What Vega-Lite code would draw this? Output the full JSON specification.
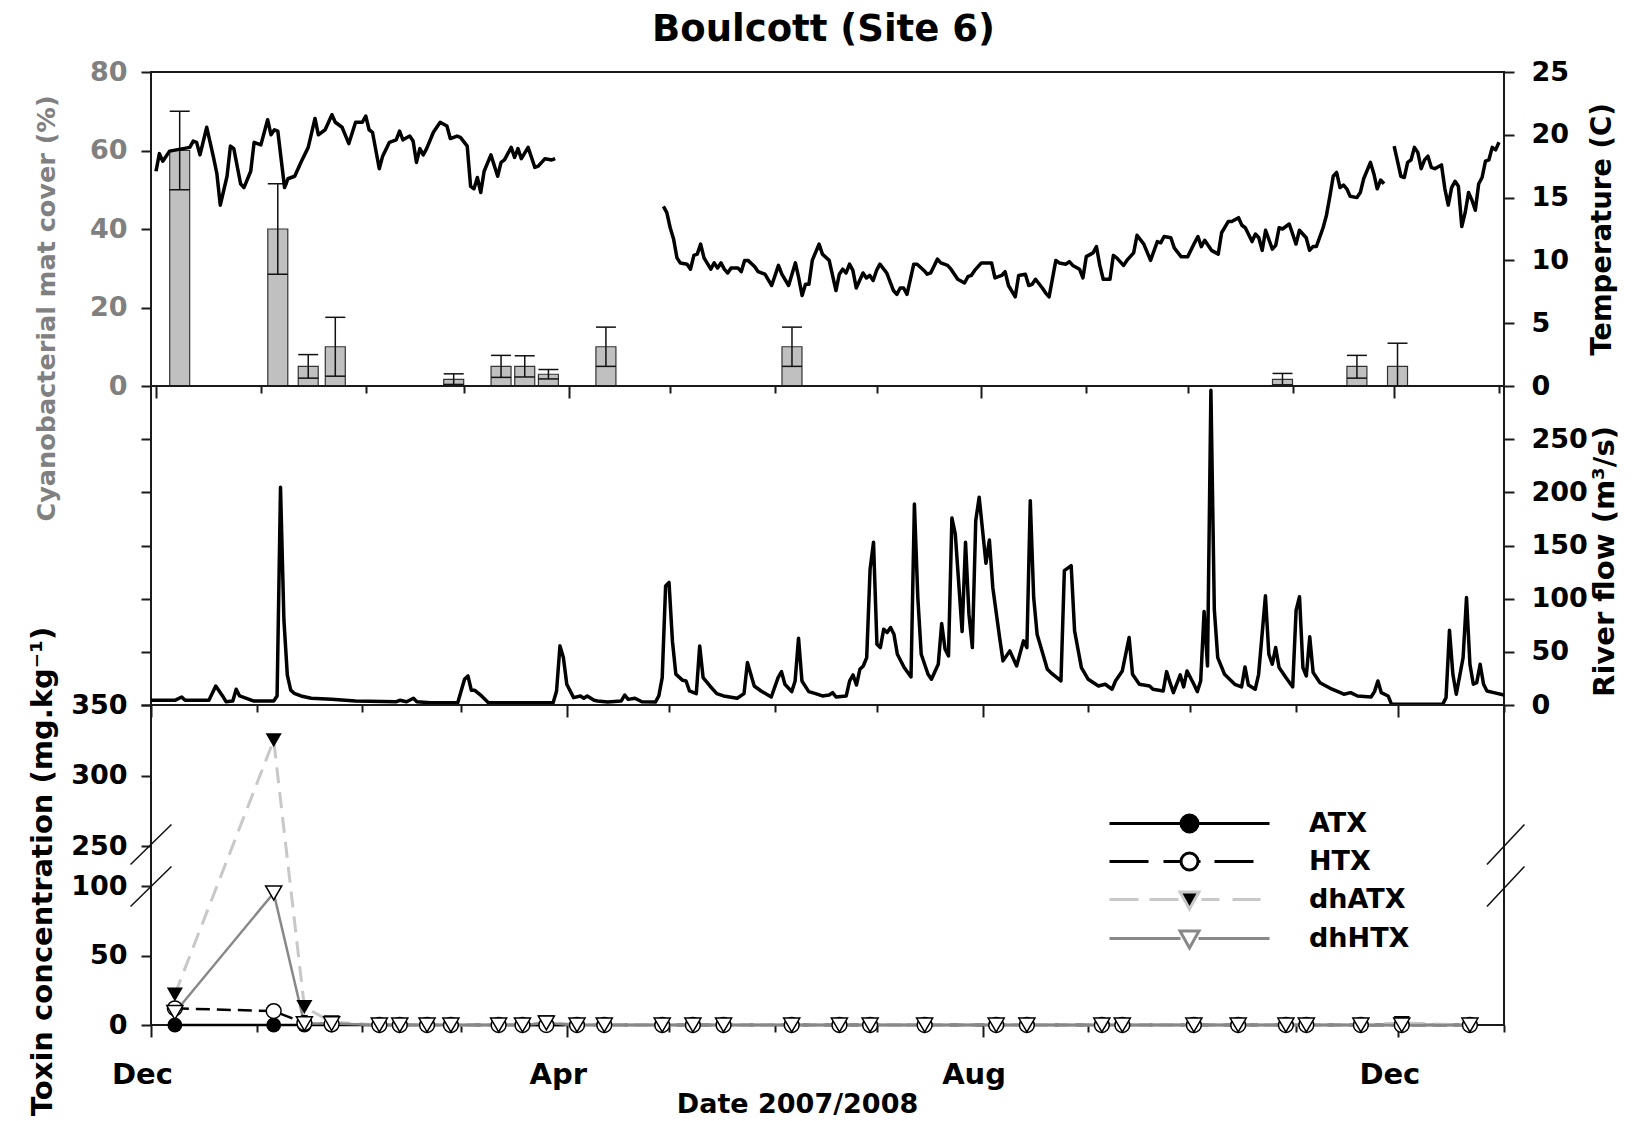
{
  "$schema": "https://vega.github.io/schema/vega-lite/v6.json",
  "padding": {"left": 26, "top": 11, "right": 8, "bottom": 3},
  "title": {"text": "Boulcott (Site 6)", "font": "DejaVu Sans", "fontSize": 37, "fontWeight": "bold", "color": "#000000", "anchor": "middle", "offset": 8},
  "spacing": 0,
  "bounds": "flush",
  "config": {
    "font": "DejaVu Sans",
    "view": {"stroke": "#1a1a1a", "strokeWidth": 2},
    "axis": {"grid": false, "domain": false, "labelFont": "DejaVu Sans", "labelFontWeight": "bold", "labelFontSize": 27, "labelColor": "#000000", "titleFont": "DejaVu Sans", "titleFontWeight": "bold", "titleFontSize": 27, "titleColor": "#000000", "tickColor": "#1a1a1a", "tickWidth": 2, "tickSize": 10, "labelPadding": 14}
  },
  "datasets": {
    "mat": [
      {"date": "2007-12-08", "cover": 60, "lo": 50, "hi": 70},
      {"date": "2008-01-06", "cover": 40, "lo": 28.5, "hi": 51.5},
      {"date": "2008-01-15", "cover": 5, "lo": 2, "hi": 8},
      {"date": "2008-01-23", "cover": 10, "lo": 2.5, "hi": 17.5},
      {"date": "2008-02-27", "cover": 1.7, "lo": 0.4, "hi": 3.1},
      {"date": "2008-03-12", "cover": 5, "lo": 2.2, "hi": 7.8},
      {"date": "2008-03-19", "cover": 5, "lo": 2.3, "hi": 7.7},
      {"date": "2008-03-26", "cover": 3, "lo": 1.8, "hi": 4.2},
      {"date": "2008-04-12", "cover": 10, "lo": 5, "hi": 15},
      {"date": "2008-06-06", "cover": 10, "lo": 5, "hi": 15},
      {"date": "2008-10-29", "cover": 1.7, "lo": 0.3, "hi": 3.2},
      {"date": "2008-11-20", "cover": 5, "lo": 2, "hi": 7.8},
      {"date": "2008-12-02", "cover": 5, "lo": 0, "hi": 10.9}
    ],
    "temp": [
      {"date": "2007-12-01", "temp": 17.1, "seg": 1}, {"date": "2007-12-02", "temp": 18.5, "seg": 1}, {"date": "2007-12-03", "temp": 17.9, "seg": 1}, {"date": "2007-12-04", "temp": 18.3, "seg": 1}, {"date": "2007-12-05", "temp": 18.7, "seg": 1}, {"date": "2007-12-07", "temp": 18.8, "seg": 1}, {"date": "2007-12-09", "temp": 18.9, "seg": 1}, {"date": "2007-12-11", "temp": 19.0, "seg": 1}, {"date": "2007-12-12", "temp": 19.5, "seg": 1}, {"date": "2007-12-13", "temp": 19.4, "seg": 1}, {"date": "2007-12-14", "temp": 18.4, "seg": 1}, {"date": "2007-12-16", "temp": 20.6, "seg": 1}, {"date": "2007-12-18", "temp": 18.2, "seg": 1}, {"date": "2007-12-19", "temp": 16.9, "seg": 1}, {"date": "2007-12-20", "temp": 14.4, "seg": 1}, {"date": "2007-12-22", "temp": 16.7, "seg": 1}, {"date": "2007-12-23", "temp": 19.1, "seg": 1}, {"date": "2007-12-24", "temp": 18.9, "seg": 1}, {"date": "2007-12-26", "temp": 16.1, "seg": 1}, {"date": "2007-12-27", "temp": 15.8, "seg": 1}, {"date": "2007-12-29", "temp": 17.1, "seg": 1}, {"date": "2007-12-30", "temp": 19.4, "seg": 1},
      {"date": "2008-01-01", "temp": 19.2, "seg": 1}, {"date": "2008-01-03", "temp": 21.2, "seg": 1}, {"date": "2008-01-04", "temp": 20.0, "seg": 1}, {"date": "2008-01-05", "temp": 20.4, "seg": 1}, {"date": "2008-01-06", "temp": 20.3, "seg": 1}, {"date": "2008-01-08", "temp": 15.8, "seg": 1}, {"date": "2008-01-09", "temp": 16.5, "seg": 1}, {"date": "2008-01-11", "temp": 16.7, "seg": 1}, {"date": "2008-01-13", "temp": 17.9, "seg": 1}, {"date": "2008-01-15", "temp": 19.0, "seg": 1}, {"date": "2008-01-17", "temp": 21.3, "seg": 1}, {"date": "2008-01-18", "temp": 20.0, "seg": 1}, {"date": "2008-01-20", "temp": 20.4, "seg": 1}, {"date": "2008-01-22", "temp": 21.6, "seg": 1}, {"date": "2008-01-23", "temp": 21.0, "seg": 1}, {"date": "2008-01-25", "temp": 20.6, "seg": 1}, {"date": "2008-01-27", "temp": 19.3, "seg": 1}, {"date": "2008-01-29", "temp": 21.0, "seg": 1}, {"date": "2008-01-31", "temp": 21.0, "seg": 1},
      {"date": "2008-02-01", "temp": 21.5, "seg": 1}, {"date": "2008-02-02", "temp": 20.4, "seg": 1}, {"date": "2008-02-03", "temp": 20.2, "seg": 1}, {"date": "2008-02-05", "temp": 17.3, "seg": 1}, {"date": "2008-02-06", "temp": 18.3, "seg": 1}, {"date": "2008-02-08", "temp": 19.4, "seg": 1}, {"date": "2008-02-10", "temp": 19.6, "seg": 1}, {"date": "2008-02-11", "temp": 20.3, "seg": 1}, {"date": "2008-02-12", "temp": 19.6, "seg": 1}, {"date": "2008-02-14", "temp": 19.9, "seg": 1}, {"date": "2008-02-15", "temp": 19.5, "seg": 1}, {"date": "2008-02-16", "temp": 17.8, "seg": 1}, {"date": "2008-02-17", "temp": 18.9, "seg": 1}, {"date": "2008-02-18", "temp": 18.4, "seg": 1}, {"date": "2008-02-19", "temp": 18.9, "seg": 1}, {"date": "2008-02-21", "temp": 20.2, "seg": 1}, {"date": "2008-02-23", "temp": 21.0, "seg": 1}, {"date": "2008-02-25", "temp": 20.7, "seg": 1}, {"date": "2008-02-26", "temp": 19.7, "seg": 1}, {"date": "2008-02-28", "temp": 19.9, "seg": 1}, {"date": "2008-02-29", "temp": 19.8, "seg": 1},
      {"date": "2008-03-02", "temp": 19.1, "seg": 1}, {"date": "2008-03-03", "temp": 15.9, "seg": 1}, {"date": "2008-03-04", "temp": 15.7, "seg": 1}, {"date": "2008-03-05", "temp": 16.6, "seg": 1}, {"date": "2008-03-06", "temp": 15.4, "seg": 1}, {"date": "2008-03-07", "temp": 17.1, "seg": 1}, {"date": "2008-03-09", "temp": 18.4, "seg": 1}, {"date": "2008-03-11", "temp": 16.7, "seg": 1}, {"date": "2008-03-12", "temp": 17.8, "seg": 1}, {"date": "2008-03-13", "temp": 18.0, "seg": 1}, {"date": "2008-03-15", "temp": 19.0, "seg": 1}, {"date": "2008-03-16", "temp": 18.2, "seg": 1}, {"date": "2008-03-17", "temp": 18.9, "seg": 1}, {"date": "2008-03-18", "temp": 18.1, "seg": 1}, {"date": "2008-03-20", "temp": 19.0, "seg": 1}, {"date": "2008-03-22", "temp": 17.4, "seg": 1}, {"date": "2008-03-23", "temp": 17.5, "seg": 1}, {"date": "2008-03-25", "temp": 18.1, "seg": 1}, {"date": "2008-03-27", "temp": 18.0, "seg": 1}, {"date": "2008-03-28", "temp": 18.1, "seg": 1},
      {"date": "2008-04-29", "temp": 14.3, "seg": 2}, {"date": "2008-04-30", "temp": 13.8, "seg": 2}, {"date": "2008-05-01", "temp": 12.6, "seg": 2}, {"date": "2008-05-02", "temp": 11.7, "seg": 2}, {"date": "2008-05-03", "temp": 10.2, "seg": 2}, {"date": "2008-05-04", "temp": 9.8, "seg": 2}, {"date": "2008-05-06", "temp": 9.7, "seg": 2}, {"date": "2008-05-07", "temp": 9.3, "seg": 2}, {"date": "2008-05-08", "temp": 10.4, "seg": 2}, {"date": "2008-05-09", "temp": 10.5, "seg": 2}, {"date": "2008-05-10", "temp": 11.3, "seg": 2}, {"date": "2008-05-11", "temp": 10.2, "seg": 2}, {"date": "2008-05-13", "temp": 9.3, "seg": 2}, {"date": "2008-05-14", "temp": 9.8, "seg": 2}, {"date": "2008-05-15", "temp": 9.4, "seg": 2}, {"date": "2008-05-16", "temp": 9.8, "seg": 2}, {"date": "2008-05-17", "temp": 9.3, "seg": 2}, {"date": "2008-05-18", "temp": 9.0, "seg": 2}, {"date": "2008-05-19", "temp": 9.4, "seg": 2}, {"date": "2008-05-21", "temp": 9.4, "seg": 2}, {"date": "2008-05-22", "temp": 9.1, "seg": 2}, {"date": "2008-05-23", "temp": 10.0, "seg": 2}, {"date": "2008-05-24", "temp": 10.0, "seg": 2}, {"date": "2008-05-26", "temp": 9.5, "seg": 2}, {"date": "2008-05-27", "temp": 9.1, "seg": 2}, {"date": "2008-05-29", "temp": 8.9, "seg": 2}, {"date": "2008-05-31", "temp": 8.0, "seg": 2},
      {"date": "2008-06-02", "temp": 9.6, "seg": 2}, {"date": "2008-06-03", "temp": 8.9, "seg": 2}, {"date": "2008-06-05", "temp": 8.0, "seg": 2}, {"date": "2008-06-07", "temp": 9.8, "seg": 2}, {"date": "2008-06-08", "temp": 8.6, "seg": 2}, {"date": "2008-06-09", "temp": 7.2, "seg": 2}, {"date": "2008-06-10", "temp": 8.1, "seg": 2}, {"date": "2008-06-11", "temp": 8.1, "seg": 2}, {"date": "2008-06-12", "temp": 10.0, "seg": 2}, {"date": "2008-06-14", "temp": 11.3, "seg": 2}, {"date": "2008-06-15", "temp": 10.5, "seg": 2}, {"date": "2008-06-17", "temp": 10.0, "seg": 2}, {"date": "2008-06-19", "temp": 7.6, "seg": 2}, {"date": "2008-06-20", "temp": 8.9, "seg": 2}, {"date": "2008-06-21", "temp": 9.3, "seg": 2}, {"date": "2008-06-22", "temp": 9.0, "seg": 2}, {"date": "2008-06-23", "temp": 9.7, "seg": 2}, {"date": "2008-06-24", "temp": 9.2, "seg": 2}, {"date": "2008-06-25", "temp": 7.8, "seg": 2}, {"date": "2008-06-27", "temp": 9.0, "seg": 2}, {"date": "2008-06-28", "temp": 8.6, "seg": 2}, {"date": "2008-06-29", "temp": 8.8, "seg": 2}, {"date": "2008-06-30", "temp": 8.4, "seg": 2},
      {"date": "2008-07-01", "temp": 9.2, "seg": 2}, {"date": "2008-07-02", "temp": 9.7, "seg": 2}, {"date": "2008-07-04", "temp": 9.0, "seg": 2}, {"date": "2008-07-06", "temp": 7.6, "seg": 2}, {"date": "2008-07-07", "temp": 7.3, "seg": 2}, {"date": "2008-07-08", "temp": 7.8, "seg": 2}, {"date": "2008-07-09", "temp": 7.8, "seg": 2}, {"date": "2008-07-10", "temp": 7.3, "seg": 2}, {"date": "2008-07-12", "temp": 9.7, "seg": 2}, {"date": "2008-07-13", "temp": 9.7, "seg": 2}, {"date": "2008-07-15", "temp": 9.2, "seg": 2}, {"date": "2008-07-16", "temp": 8.9, "seg": 2}, {"date": "2008-07-17", "temp": 9.0, "seg": 2}, {"date": "2008-07-19", "temp": 10.1, "seg": 2}, {"date": "2008-07-20", "temp": 9.8, "seg": 2}, {"date": "2008-07-22", "temp": 9.6, "seg": 2}, {"date": "2008-07-23", "temp": 9.3, "seg": 2}, {"date": "2008-07-25", "temp": 8.5, "seg": 2}, {"date": "2008-07-27", "temp": 8.2, "seg": 2}, {"date": "2008-07-28", "temp": 8.7, "seg": 2}, {"date": "2008-07-29", "temp": 8.8, "seg": 2}, {"date": "2008-07-30", "temp": 9.2, "seg": 2},
      {"date": "2008-08-01", "temp": 9.8, "seg": 2}, {"date": "2008-08-02", "temp": 9.8, "seg": 2}, {"date": "2008-08-04", "temp": 9.8, "seg": 2}, {"date": "2008-08-05", "temp": 8.6, "seg": 2}, {"date": "2008-08-07", "temp": 8.8, "seg": 2}, {"date": "2008-08-08", "temp": 9.1, "seg": 2}, {"date": "2008-08-09", "temp": 8.0, "seg": 2}, {"date": "2008-08-11", "temp": 7.1, "seg": 2}, {"date": "2008-08-12", "temp": 8.8, "seg": 2}, {"date": "2008-08-14", "temp": 8.9, "seg": 2}, {"date": "2008-08-15", "temp": 8.0, "seg": 2}, {"date": "2008-08-16", "temp": 8.1, "seg": 2}, {"date": "2008-08-17", "temp": 8.5, "seg": 2}, {"date": "2008-08-19", "temp": 7.8, "seg": 2}, {"date": "2008-08-20", "temp": 7.4, "seg": 2}, {"date": "2008-08-21", "temp": 7.1, "seg": 2}, {"date": "2008-08-23", "temp": 10.0, "seg": 2}, {"date": "2008-08-24", "temp": 9.8, "seg": 2}, {"date": "2008-08-26", "temp": 9.7, "seg": 2}, {"date": "2008-08-27", "temp": 9.9, "seg": 2}, {"date": "2008-08-28", "temp": 9.6, "seg": 2}, {"date": "2008-08-30", "temp": 9.3, "seg": 2}, {"date": "2008-08-31", "temp": 8.6, "seg": 2},
      {"date": "2008-09-01", "temp": 10.3, "seg": 2}, {"date": "2008-09-03", "temp": 10.6, "seg": 2}, {"date": "2008-09-04", "temp": 11.1, "seg": 2}, {"date": "2008-09-05", "temp": 9.6, "seg": 2}, {"date": "2008-09-06", "temp": 8.5, "seg": 2}, {"date": "2008-09-08", "temp": 8.5, "seg": 2}, {"date": "2008-09-09", "temp": 10.4, "seg": 2}, {"date": "2008-09-10", "temp": 10.2, "seg": 2}, {"date": "2008-09-12", "temp": 9.6, "seg": 2}, {"date": "2008-09-13", "temp": 10.0, "seg": 2}, {"date": "2008-09-15", "temp": 10.6, "seg": 2}, {"date": "2008-09-16", "temp": 12.0, "seg": 2}, {"date": "2008-09-18", "temp": 11.3, "seg": 2}, {"date": "2008-09-20", "temp": 10.0, "seg": 2}, {"date": "2008-09-22", "temp": 11.5, "seg": 2}, {"date": "2008-09-23", "temp": 11.4, "seg": 2}, {"date": "2008-09-24", "temp": 11.9, "seg": 2}, {"date": "2008-09-26", "temp": 11.8, "seg": 2}, {"date": "2008-09-27", "temp": 11.0, "seg": 2}, {"date": "2008-09-29", "temp": 10.3, "seg": 2},
      {"date": "2008-10-01", "temp": 10.3, "seg": 2}, {"date": "2008-10-03", "temp": 11.4, "seg": 2}, {"date": "2008-10-04", "temp": 11.9, "seg": 2}, {"date": "2008-10-05", "temp": 11.1, "seg": 2}, {"date": "2008-10-06", "temp": 11.6, "seg": 2}, {"date": "2008-10-08", "temp": 10.8, "seg": 2}, {"date": "2008-10-10", "temp": 10.5, "seg": 2}, {"date": "2008-10-11", "temp": 12.2, "seg": 2}, {"date": "2008-10-13", "temp": 13.1, "seg": 2}, {"date": "2008-10-14", "temp": 13.1, "seg": 2}, {"date": "2008-10-16", "temp": 13.4, "seg": 2}, {"date": "2008-10-17", "temp": 12.8, "seg": 2}, {"date": "2008-10-18", "temp": 12.6, "seg": 2}, {"date": "2008-10-20", "temp": 11.5, "seg": 2}, {"date": "2008-10-21", "temp": 12.1, "seg": 2}, {"date": "2008-10-22", "temp": 11.8, "seg": 2}, {"date": "2008-10-23", "temp": 10.8, "seg": 2}, {"date": "2008-10-24", "temp": 12.4, "seg": 2}, {"date": "2008-10-26", "temp": 10.9, "seg": 2}, {"date": "2008-10-27", "temp": 11.2, "seg": 2}, {"date": "2008-10-28", "temp": 12.6, "seg": 2}, {"date": "2008-10-29", "temp": 12.5, "seg": 2}, {"date": "2008-10-31", "temp": 12.9, "seg": 2},
      {"date": "2008-11-01", "temp": 12.1, "seg": 2}, {"date": "2008-11-02", "temp": 11.3, "seg": 2}, {"date": "2008-11-03", "temp": 12.4, "seg": 2}, {"date": "2008-11-05", "temp": 11.8, "seg": 2}, {"date": "2008-11-06", "temp": 10.8, "seg": 2}, {"date": "2008-11-07", "temp": 11.1, "seg": 2}, {"date": "2008-11-08", "temp": 11.1, "seg": 2}, {"date": "2008-11-10", "temp": 12.6, "seg": 2}, {"date": "2008-11-11", "temp": 13.6, "seg": 2}, {"date": "2008-11-12", "temp": 15.1, "seg": 2}, {"date": "2008-11-13", "temp": 16.7, "seg": 2}, {"date": "2008-11-14", "temp": 17.0, "seg": 2}, {"date": "2008-11-15", "temp": 15.8, "seg": 2}, {"date": "2008-11-16", "temp": 16.0, "seg": 2}, {"date": "2008-11-17", "temp": 15.7, "seg": 2}, {"date": "2008-11-18", "temp": 15.1, "seg": 2}, {"date": "2008-11-20", "temp": 15.0, "seg": 2}, {"date": "2008-11-21", "temp": 15.4, "seg": 2}, {"date": "2008-11-22", "temp": 16.5, "seg": 2}, {"date": "2008-11-24", "temp": 17.8, "seg": 2}, {"date": "2008-11-25", "temp": 16.9, "seg": 2}, {"date": "2008-11-26", "temp": 15.7, "seg": 2}, {"date": "2008-11-27", "temp": 16.4, "seg": 2}, {"date": "2008-11-28", "temp": 16.1, "seg": 2},
      {"date": "2008-12-01", "temp": 19.1, "seg": 3}, {"date": "2008-12-02", "temp": 17.9, "seg": 3}, {"date": "2008-12-03", "temp": 16.7, "seg": 3}, {"date": "2008-12-04", "temp": 16.6, "seg": 3}, {"date": "2008-12-05", "temp": 17.8, "seg": 3}, {"date": "2008-12-06", "temp": 18.0, "seg": 3}, {"date": "2008-12-07", "temp": 19.0, "seg": 3}, {"date": "2008-12-08", "temp": 18.6, "seg": 3}, {"date": "2008-12-09", "temp": 17.3, "seg": 3}, {"date": "2008-12-10", "temp": 18.0, "seg": 3}, {"date": "2008-12-11", "temp": 18.3, "seg": 3}, {"date": "2008-12-12", "temp": 17.4, "seg": 3}, {"date": "2008-12-13", "temp": 17.3, "seg": 3}, {"date": "2008-12-15", "temp": 17.6, "seg": 3}, {"date": "2008-12-16", "temp": 15.7, "seg": 3}, {"date": "2008-12-17", "temp": 14.4, "seg": 3}, {"date": "2008-12-18", "temp": 15.8, "seg": 3}, {"date": "2008-12-19", "temp": 16.3, "seg": 3}, {"date": "2008-12-20", "temp": 15.9, "seg": 3}, {"date": "2008-12-21", "temp": 12.7, "seg": 3}, {"date": "2008-12-22", "temp": 13.8, "seg": 3}, {"date": "2008-12-23", "temp": 15.4, "seg": 3}, {"date": "2008-12-24", "temp": 14.8, "seg": 3}, {"date": "2008-12-25", "temp": 14.0, "seg": 3}, {"date": "2008-12-26", "temp": 16.1, "seg": 3}, {"date": "2008-12-27", "temp": 16.6, "seg": 3}, {"date": "2008-12-28", "temp": 17.9, "seg": 3}, {"date": "2008-12-29", "temp": 18.0, "seg": 3}, {"date": "2008-12-30", "temp": 19.0, "seg": 3}, {"date": "2008-12-31", "temp": 18.8, "seg": 3}, {"date": "2009-01-01", "temp": 19.4, "seg": 3}
    ],
    "flow": [
      {"date": "2007-12-01", "flow": 4.4}, {"date": "2007-12-08", "flow": 4.4}, {"date": "2007-12-10", "flow": 7.5}, {"date": "2007-12-11", "flow": 4.4}, {"date": "2007-12-18", "flow": 4.4}, {"date": "2007-12-20", "flow": 17.9}, {"date": "2007-12-22", "flow": 8.5}, {"date": "2007-12-23", "flow": 3.1}, {"date": "2007-12-25", "flow": 3.8}, {"date": "2007-12-26", "flow": 14.8}, {"date": "2007-12-27", "flow": 8.5}, {"date": "2007-12-29", "flow": 6.3}, {"date": "2007-12-31", "flow": 3.8},
      {"date": "2008-01-06", "flow": 3.8}, {"date": "2008-01-07", "flow": 8.5}, {"date": "2008-01-08", "flow": 204.8}, {"date": "2008-01-09", "flow": 80}, {"date": "2008-01-10", "flow": 28}, {"date": "2008-01-11", "flow": 14}, {"date": "2008-01-12", "flow": 11}, {"date": "2008-01-14", "flow": 8.5}, {"date": "2008-01-17", "flow": 6.3}, {"date": "2008-01-23", "flow": 5.3}, {"date": "2008-01-30", "flow": 3.8},
      {"date": "2008-02-11", "flow": 3.1}, {"date": "2008-02-12", "flow": 4.4}, {"date": "2008-02-14", "flow": 3.1}, {"date": "2008-02-16", "flow": 6.3}, {"date": "2008-02-17", "flow": 3.1}, {"date": "2008-02-21", "flow": 2.2}, {"date": "2008-02-29", "flow": 2.2},
      {"date": "2008-03-01", "flow": 13.2}, {"date": "2008-03-02", "flow": 24.2}, {"date": "2008-03-03", "flow": 27.3}, {"date": "2008-03-04", "flow": 13.8}, {"date": "2008-03-05", "flow": 13.8}, {"date": "2008-03-07", "flow": 8.5}, {"date": "2008-03-09", "flow": 2.2}, {"date": "2008-03-28", "flow": 2.2}, {"date": "2008-03-29", "flow": 13.2}, {"date": "2008-03-30", "flow": 55.6}, {"date": "2008-03-31", "flow": 44.6},
      {"date": "2008-04-01", "flow": 19.5}, {"date": "2008-04-03", "flow": 6.9}, {"date": "2008-04-05", "flow": 8.5}, {"date": "2008-04-06", "flow": 6.3}, {"date": "2008-04-07", "flow": 8.5}, {"date": "2008-04-09", "flow": 4.4}, {"date": "2008-04-10", "flow": 3.8}, {"date": "2008-04-13", "flow": 2.8}, {"date": "2008-04-17", "flow": 3.8}, {"date": "2008-04-18", "flow": 9.4}, {"date": "2008-04-19", "flow": 5.3}, {"date": "2008-04-21", "flow": 6.3}, {"date": "2008-04-23", "flow": 3.1}, {"date": "2008-04-27", "flow": 2.8}, {"date": "2008-04-28", "flow": 8.5}, {"date": "2008-04-29", "flow": 25.8}, {"date": "2008-04-30", "flow": 112},
      {"date": "2008-05-01", "flow": 115.3}, {"date": "2008-05-02", "flow": 60}, {"date": "2008-05-03", "flow": 29}, {"date": "2008-05-05", "flow": 23.2}, {"date": "2008-05-06", "flow": 22.6}, {"date": "2008-05-07", "flow": 13.2}, {"date": "2008-05-09", "flow": 10.7}, {"date": "2008-05-10", "flow": 55.6}, {"date": "2008-05-11", "flow": 25.8}, {"date": "2008-05-13", "flow": 17.9}, {"date": "2008-05-15", "flow": 10.7}, {"date": "2008-05-17", "flow": 8.5}, {"date": "2008-05-21", "flow": 6.3}, {"date": "2008-05-23", "flow": 10.7}, {"date": "2008-05-24", "flow": 39.9}, {"date": "2008-05-25", "flow": 28.9}, {"date": "2008-05-26", "flow": 17.9}, {"date": "2008-05-28", "flow": 13.2}, {"date": "2008-05-31", "flow": 7.5},
      {"date": "2008-06-02", "flow": 25.8}, {"date": "2008-06-03", "flow": 31.4}, {"date": "2008-06-04", "flow": 19.5}, {"date": "2008-06-06", "flow": 12.6}, {"date": "2008-06-07", "flow": 22.6}, {"date": "2008-06-08", "flow": 62.8}, {"date": "2008-06-09", "flow": 22.6}, {"date": "2008-06-11", "flow": 12.6}, {"date": "2008-06-13", "flow": 10.7}, {"date": "2008-06-15", "flow": 8.5}, {"date": "2008-06-17", "flow": 9.4}, {"date": "2008-06-18", "flow": 11.6}, {"date": "2008-06-19", "flow": 7.5}, {"date": "2008-06-22", "flow": 8.5}, {"date": "2008-06-23", "flow": 22.6}, {"date": "2008-06-24", "flow": 28.3}, {"date": "2008-06-25", "flow": 18.8}, {"date": "2008-06-26", "flow": 33.6}, {"date": "2008-06-27", "flow": 36.7}, {"date": "2008-06-28", "flow": 44.6}, {"date": "2008-06-29", "flow": 127.8}, {"date": "2008-06-30", "flow": 153},
      {"date": "2008-07-01", "flow": 57.2}, {"date": "2008-07-02", "flow": 54}, {"date": "2008-07-03", "flow": 71.3}, {"date": "2008-07-04", "flow": 68.2}, {"date": "2008-07-05", "flow": 72.9}, {"date": "2008-07-06", "flow": 66.6}, {"date": "2008-07-07", "flow": 47.7}, {"date": "2008-07-09", "flow": 35.2}, {"date": "2008-07-11", "flow": 26.4}, {"date": "2008-07-12", "flow": 189.1}, {"date": "2008-07-13", "flow": 101.1}, {"date": "2008-07-14", "flow": 47.7}, {"date": "2008-07-16", "flow": 28.9}, {"date": "2008-07-17", "flow": 24.2}, {"date": "2008-07-19", "flow": 38.3}, {"date": "2008-07-20", "flow": 76.6}, {"date": "2008-07-21", "flow": 52.4}, {"date": "2008-07-22", "flow": 46.2}, {"date": "2008-07-23", "flow": 175.9}, {"date": "2008-07-24", "flow": 160.8}, {"date": "2008-07-26", "flow": 69.1}, {"date": "2008-07-27", "flow": 153}, {"date": "2008-07-28", "flow": 85.4}, {"date": "2008-07-29", "flow": 54}, {"date": "2008-07-30", "flow": 173.4}, {"date": "2008-07-31", "flow": 195.4},
      {"date": "2008-08-02", "flow": 133.2}, {"date": "2008-08-03", "flow": 155.2}, {"date": "2008-08-04", "flow": 110.6}, {"date": "2008-08-06", "flow": 63.4}, {"date": "2008-08-07", "flow": 41.5}, {"date": "2008-08-09", "flow": 50.9}, {"date": "2008-08-11", "flow": 36.7}, {"date": "2008-08-13", "flow": 60.3}, {"date": "2008-08-14", "flow": 54}, {"date": "2008-08-15", "flow": 192.2}, {"date": "2008-08-16", "flow": 101.1}, {"date": "2008-08-17", "flow": 66.6}, {"date": "2008-08-19", "flow": 44.6}, {"date": "2008-08-20", "flow": 33.6}, {"date": "2008-08-21", "flow": 30.5}, {"date": "2008-08-24", "flow": 22.6}, {"date": "2008-08-25", "flow": 126.3}, {"date": "2008-08-27", "flow": 131}, {"date": "2008-08-28", "flow": 69.7}, {"date": "2008-08-30", "flow": 35.2},
      {"date": "2008-09-01", "flow": 24.2}, {"date": "2008-09-04", "flow": 17.9}, {"date": "2008-09-06", "flow": 19.5}, {"date": "2008-09-08", "flow": 14.8}, {"date": "2008-09-09", "flow": 22.6}, {"date": "2008-09-11", "flow": 32}, {"date": "2008-09-13", "flow": 63.4}, {"date": "2008-09-14", "flow": 28.9}, {"date": "2008-09-16", "flow": 19.5}, {"date": "2008-09-19", "flow": 17.9}, {"date": "2008-09-20", "flow": 14.8}, {"date": "2008-09-23", "flow": 13.2}, {"date": "2008-09-24", "flow": 31.4}, {"date": "2008-09-25", "flow": 21}, {"date": "2008-09-26", "flow": 11.6}, {"date": "2008-09-28", "flow": 28.3}, {"date": "2008-09-29", "flow": 17}, {"date": "2008-09-30", "flow": 32},
      {"date": "2008-10-02", "flow": 19.5}, {"date": "2008-10-03", "flow": 12.6}, {"date": "2008-10-04", "flow": 22.6}, {"date": "2008-10-05", "flow": 87.9}, {"date": "2008-10-06", "flow": 36.7}, {"date": "2008-10-07", "flow": 295.9}, {"date": "2008-10-08", "flow": 90}, {"date": "2008-10-09", "flow": 44.6}, {"date": "2008-10-11", "flow": 28.9}, {"date": "2008-10-14", "flow": 19.5}, {"date": "2008-10-16", "flow": 17}, {"date": "2008-10-17", "flow": 35.8}, {"date": "2008-10-18", "flow": 18.8}, {"date": "2008-10-20", "flow": 14.8}, {"date": "2008-10-21", "flow": 28.9}, {"date": "2008-10-23", "flow": 102.7}, {"date": "2008-10-24", "flow": 47.7}, {"date": "2008-10-25", "flow": 38.3}, {"date": "2008-10-26", "flow": 54}, {"date": "2008-10-27", "flow": 35.2}, {"date": "2008-10-29", "flow": 25.8}, {"date": "2008-10-31", "flow": 17},
      {"date": "2008-11-01", "flow": 89.2}, {"date": "2008-11-02", "flow": 101.8}, {"date": "2008-11-03", "flow": 35.2}, {"date": "2008-11-04", "flow": 27.3}, {"date": "2008-11-05", "flow": 64.1}, {"date": "2008-11-06", "flow": 30.5}, {"date": "2008-11-08", "flow": 21}, {"date": "2008-11-11", "flow": 15.7}, {"date": "2008-11-14", "flow": 11.6}, {"date": "2008-11-15", "flow": 10.1}, {"date": "2008-11-17", "flow": 11.6}, {"date": "2008-11-19", "flow": 8.5}, {"date": "2008-11-23", "flow": 7.5}, {"date": "2008-11-24", "flow": 12.6}, {"date": "2008-11-25", "flow": 22.6}, {"date": "2008-11-26", "flow": 11.6}, {"date": "2008-11-28", "flow": 8.5}, {"date": "2008-11-29", "flow": 0.6},
      {"date": "2008-12-14", "flow": 0.6}, {"date": "2008-12-15", "flow": 6.9}, {"date": "2008-12-16", "flow": 70.4}, {"date": "2008-12-17", "flow": 28.9}, {"date": "2008-12-18", "flow": 10.1}, {"date": "2008-12-20", "flow": 44.6}, {"date": "2008-12-21", "flow": 101.1}, {"date": "2008-12-22", "flow": 38.3}, {"date": "2008-12-23", "flow": 19.5}, {"date": "2008-12-24", "flow": 21}, {"date": "2008-12-25", "flow": 38.3}, {"date": "2008-12-26", "flow": 19.5}, {"date": "2008-12-27", "flow": 13.2}, {"date": "2008-12-29", "flow": 11.6}, {"date": "2009-01-01", "flow": 9.4}
    ],
    "toxin": [
      {"date": "2007-12-08", "series": "ATX", "value": 0}, {"date": "2007-12-08", "series": "HTX", "value": 12}, {"date": "2007-12-08", "series": "dhATX", "value": 22}, {"date": "2007-12-08", "series": "dhHTX", "value": 9},
      {"date": "2008-01-06", "series": "ATX", "value": 0}, {"date": "2008-01-06", "series": "HTX", "value": 10}, {"date": "2008-01-06", "series": "dhATX", "value": 325}, {"date": "2008-01-06", "series": "dhHTX", "value": 95},
      {"date": "2008-01-15", "series": "ATX", "value": 0}, {"date": "2008-01-15", "series": "HTX", "value": 1.5}, {"date": "2008-01-15", "series": "dhATX", "value": 13}, {"date": "2008-01-15", "series": "dhHTX", "value": 1},
      {"date": "2008-01-23", "series": "ATX", "value": 0}, {"date": "2008-01-23", "series": "HTX", "value": 0.5}, {"date": "2008-01-23", "series": "dhATX", "value": 2}, {"date": "2008-01-23", "series": "dhHTX", "value": 1},
      {"date": "2008-02-06", "series": "ATX", "value": 0}, {"date": "2008-02-06", "series": "HTX", "value": 0}, {"date": "2008-02-06", "series": "dhATX", "value": 0}, {"date": "2008-02-06", "series": "dhHTX", "value": 0},
      {"date": "2008-02-12", "series": "ATX", "value": 0}, {"date": "2008-02-12", "series": "HTX", "value": 0}, {"date": "2008-02-12", "series": "dhATX", "value": 0}, {"date": "2008-02-12", "series": "dhHTX", "value": 0},
      {"date": "2008-02-20", "series": "ATX", "value": 0}, {"date": "2008-02-20", "series": "HTX", "value": 0}, {"date": "2008-02-20", "series": "dhATX", "value": 0}, {"date": "2008-02-20", "series": "dhHTX", "value": 0},
      {"date": "2008-02-27", "series": "ATX", "value": 0}, {"date": "2008-02-27", "series": "HTX", "value": 0}, {"date": "2008-02-27", "series": "dhATX", "value": 0}, {"date": "2008-02-27", "series": "dhHTX", "value": 0},
      {"date": "2008-03-12", "series": "ATX", "value": 0}, {"date": "2008-03-12", "series": "HTX", "value": 0}, {"date": "2008-03-12", "series": "dhATX", "value": 0}, {"date": "2008-03-12", "series": "dhHTX", "value": 0},
      {"date": "2008-03-19", "series": "ATX", "value": 0}, {"date": "2008-03-19", "series": "HTX", "value": 0}, {"date": "2008-03-19", "series": "dhATX", "value": 0}, {"date": "2008-03-19", "series": "dhHTX", "value": 0},
      {"date": "2008-03-26", "series": "ATX", "value": 0}, {"date": "2008-03-26", "series": "HTX", "value": 0}, {"date": "2008-03-26", "series": "dhATX", "value": 2}, {"date": "2008-03-26", "series": "dhHTX", "value": 1.5},
      {"date": "2008-04-04", "series": "ATX", "value": 0}, {"date": "2008-04-04", "series": "HTX", "value": 0}, {"date": "2008-04-04", "series": "dhATX", "value": 0}, {"date": "2008-04-04", "series": "dhHTX", "value": 0},
      {"date": "2008-04-12", "series": "ATX", "value": 0}, {"date": "2008-04-12", "series": "HTX", "value": 0}, {"date": "2008-04-12", "series": "dhATX", "value": 0}, {"date": "2008-04-12", "series": "dhHTX", "value": 0},
      {"date": "2008-04-29", "series": "ATX", "value": 0}, {"date": "2008-04-29", "series": "HTX", "value": 0}, {"date": "2008-04-29", "series": "dhATX", "value": 0}, {"date": "2008-04-29", "series": "dhHTX", "value": 0},
      {"date": "2008-05-08", "series": "ATX", "value": 0}, {"date": "2008-05-08", "series": "HTX", "value": 0}, {"date": "2008-05-08", "series": "dhATX", "value": 0}, {"date": "2008-05-08", "series": "dhHTX", "value": 0},
      {"date": "2008-05-17", "series": "ATX", "value": 0}, {"date": "2008-05-17", "series": "HTX", "value": 0}, {"date": "2008-05-17", "series": "dhATX", "value": 0}, {"date": "2008-05-17", "series": "dhHTX", "value": 0},
      {"date": "2008-06-06", "series": "ATX", "value": 0}, {"date": "2008-06-06", "series": "HTX", "value": 0}, {"date": "2008-06-06", "series": "dhATX", "value": 0}, {"date": "2008-06-06", "series": "dhHTX", "value": 0},
      {"date": "2008-06-20", "series": "ATX", "value": 0}, {"date": "2008-06-20", "series": "HTX", "value": 0}, {"date": "2008-06-20", "series": "dhATX", "value": 0}, {"date": "2008-06-20", "series": "dhHTX", "value": 0},
      {"date": "2008-06-29", "series": "ATX", "value": 0}, {"date": "2008-06-29", "series": "HTX", "value": 0}, {"date": "2008-06-29", "series": "dhATX", "value": 0}, {"date": "2008-06-29", "series": "dhHTX", "value": 0},
      {"date": "2008-07-15", "series": "ATX", "value": 0}, {"date": "2008-07-15", "series": "HTX", "value": 0}, {"date": "2008-07-15", "series": "dhATX", "value": 0}, {"date": "2008-07-15", "series": "dhHTX", "value": 0},
      {"date": "2008-08-05", "series": "ATX", "value": 0}, {"date": "2008-08-05", "series": "HTX", "value": 0}, {"date": "2008-08-05", "series": "dhATX", "value": 0}, {"date": "2008-08-05", "series": "dhHTX", "value": 0},
      {"date": "2008-08-14", "series": "ATX", "value": 0}, {"date": "2008-08-14", "series": "HTX", "value": 0}, {"date": "2008-08-14", "series": "dhATX", "value": 0}, {"date": "2008-08-14", "series": "dhHTX", "value": 0},
      {"date": "2008-09-05", "series": "ATX", "value": 0}, {"date": "2008-09-05", "series": "HTX", "value": 0}, {"date": "2008-09-05", "series": "dhATX", "value": 0}, {"date": "2008-09-05", "series": "dhHTX", "value": 0},
      {"date": "2008-09-11", "series": "ATX", "value": 0}, {"date": "2008-09-11", "series": "HTX", "value": 0}, {"date": "2008-09-11", "series": "dhATX", "value": 0}, {"date": "2008-09-11", "series": "dhHTX", "value": 0},
      {"date": "2008-10-02", "series": "ATX", "value": 0}, {"date": "2008-10-02", "series": "HTX", "value": 0}, {"date": "2008-10-02", "series": "dhATX", "value": 0}, {"date": "2008-10-02", "series": "dhHTX", "value": 0},
      {"date": "2008-10-15", "series": "ATX", "value": 0}, {"date": "2008-10-15", "series": "HTX", "value": 0}, {"date": "2008-10-15", "series": "dhATX", "value": 0}, {"date": "2008-10-15", "series": "dhHTX", "value": 0},
      {"date": "2008-10-29", "series": "ATX", "value": 0}, {"date": "2008-10-29", "series": "HTX", "value": 0}, {"date": "2008-10-29", "series": "dhATX", "value": 0}, {"date": "2008-10-29", "series": "dhHTX", "value": 0},
      {"date": "2008-11-04", "series": "ATX", "value": 0}, {"date": "2008-11-04", "series": "HTX", "value": 0}, {"date": "2008-11-04", "series": "dhATX", "value": 0}, {"date": "2008-11-04", "series": "dhHTX", "value": 0},
      {"date": "2008-11-20", "series": "ATX", "value": 0}, {"date": "2008-11-20", "series": "HTX", "value": 0}, {"date": "2008-11-20", "series": "dhATX", "value": 0}, {"date": "2008-11-20", "series": "dhHTX", "value": 0},
      {"date": "2008-12-02", "series": "ATX", "value": 0}, {"date": "2008-12-02", "series": "HTX", "value": 0}, {"date": "2008-12-02", "series": "dhATX", "value": 1.5}, {"date": "2008-12-02", "series": "dhHTX", "value": 0},
      {"date": "2008-12-22", "series": "ATX", "value": 0}, {"date": "2008-12-22", "series": "HTX", "value": 0}, {"date": "2008-12-22", "series": "dhATX", "value": 0}, {"date": "2008-12-22", "series": "dhHTX", "value": 0}
    ],
    "breaks": [
      {"d1": "2007-11-25", "d2": "2007-12-07", "v1": 180.6, "v2": 265.2},
      {"d1": "2007-11-25", "d2": "2007-12-07", "v1": 85.3, "v2": 173.1},
      {"d1": "2008-12-27", "d2": "2009-01-07", "v1": 180.6, "v2": 265.2},
      {"d1": "2008-12-27", "d2": "2009-01-07", "v1": 85.3, "v2": 173.1}
    ]
  },
  "vconcat": [
    {
      "width": 1353,
      "height": 314,
      "layer": [
        {
          "layer": [
            {
              "data": {"name": "mat"},
              "mark": {"type": "bar", "size": 20, "fill": "#c0c0c0", "stroke": "#333333", "strokeWidth": 1.2},
              "encoding": {
                "x": {"field": "date", "type": "temporal", "scale": {"type": "utc", "nice": false, "domain": [{"year": 2007, "month": 12, "date": 1, "utc": true}, {"year": 2009, "month": 1, "date": 1, "utc": true}]},
                  "axis": {"title": null, "labels": false, "tickCount": {"interval": "month", "step": 1}, "tickSize": {"condition": {"test": "utcmonth(datum.value) % 4 == 3", "value": 12}, "value": 7}}},
                "y": {"field": "cover", "type": "quantitative", "scale": {"domain": [0, 80], "nice": false},
                  "axis": {"orient": "left", "values": [0, 20, 40, 60, 80], "labelColor": "#808080", "title": "Cyanobacterial mat cover (%)", "titleColor": "#808080", "titleFontSize": 25.5, "titleX": -92, "titleY": 236}}
              }
            },
            {
              "data": {"name": "mat"},
              "mark": {"type": "rule", "color": "#111111", "strokeWidth": 1.5},
              "encoding": {
                "x": {"field": "date", "type": "temporal"},
                "y": {"field": "lo", "type": "quantitative"},
                "y2": {"field": "hi"}
              }
            },
            {
              "data": {"name": "mat"},
              "mark": {"type": "tick", "orient": "horizontal", "size": 20, "thickness": 1.5, "color": "#111111", "opacity": 1},
              "encoding": {
                "x": {"field": "date", "type": "temporal"},
                "y": {"field": "hi", "type": "quantitative"}
              }
            },
            {
              "data": {"name": "mat"},
              "mark": {"type": "tick", "orient": "horizontal", "size": 20, "thickness": 1.5, "color": "#111111", "opacity": 1},
              "encoding": {
                "x": {"field": "date", "type": "temporal"},
                "y": {"field": "lo", "type": "quantitative"}
              }
            }
          ]
        },
        {
          "data": {"name": "temp"},
          "mark": {"type": "line", "color": "#000000", "strokeWidth": 3.5, "strokeJoin": "round"},
          "encoding": {
            "x": {"field": "date", "type": "temporal"},
            "y": {"field": "temp", "type": "quantitative", "scale": {"domain": [0, 25], "nice": false},
              "axis": {"orient": "right", "values": [0, 5, 10, 15, 20, 25], "labelPadding": 17, "title": "Temperature (C)", "titleFontSize": 27.5, "titleAngle": 270, "titleBaseline": "top", "titleX": 84}},
            "detail": {"field": "seg", "type": "nominal"}
          }
        }
      ],
      "resolve": {"scale": {"y": "independent"}}
    },
    {
      "width": 1353,
      "height": 319,
      "layer": [
        {
          "data": {"name": "flow"},
          "mark": {"type": "line", "color": "#000000", "strokeWidth": 3.5, "strokeJoin": "round"},
          "encoding": {
            "x": {"field": "date", "type": "temporal", "scale": {"type": "utc", "nice": false, "domain": [{"year": 2007, "month": 12, "date": 1, "utc": true}, {"year": 2009, "month": 1, "date": 1, "utc": true}]},
              "axis": {"title": null, "labels": false, "tickCount": {"interval": "month", "step": 1}, "tickSize": {"condition": {"test": "utcmonth(datum.value) % 4 == 3", "value": 12}, "value": 7}}},
            "y": {"field": "flow", "type": "quantitative", "scale": {"domain": [0, 300], "nice": false},
              "axis": {"orient": "left", "values": [0, 50, 100, 150, 200, 250], "labels": false, "title": null}}
          }
        },
        {
          "data": {"name": "flow"},
          "mark": {"type": "line", "color": "#000000", "strokeWidth": 3, "opacity": 0},
          "encoding": {
            "x": {"field": "date", "type": "temporal"},
            "y": {"field": "flow", "type": "quantitative",
              "axis": {"orient": "right", "values": [0, 50, 100, 150, 200, 250], "labelPadding": 17, "title": "River flow (m³/s)", "titleFontSize": 29, "titleAngle": 270, "titleBaseline": "top", "titleX": 86, "titleY": 175}}
          }
        }
      ],
      "resolve": {"axis": {"y": "independent"}}
    },
    {
      "width": 1353,
      "height": 320,
      "layer": [
        {
          "data": {"name": "toxin"},
          "transform": [{"filter": "datum.series === 'ATX'"}],
          "mark": {"type": "line", "color": "#000000", "strokeWidth": 2.5},
          "encoding": {
            "x": {"field": "date", "type": "temporal", "scale": {"type": "utc", "nice": false, "domain": [{"year": 2007, "month": 12, "date": 1, "utc": true}, {"year": 2009, "month": 1, "date": 1, "utc": true}]},
              "axis": {"title": "Date 2007/2008", "titleX": 646, "titleY": 87, "titleBaseline": "alphabetic", "labels": true, "labelFontSize": 29, "labelExpr": "utcmonth(datum.value) % 4 == 3 ? utcFormat(datum.value, '%b') : ''", "labelOverlap": false, "labelFlush": false, "labelOffset": -9, "labelBaseline": "alphabetic", "labelPadding": 46, "tickCount": {"interval": "month", "step": 1}, "tickSize": {"condition": {"test": "utcmonth(datum.value) % 4 == 3", "value": 12}, "value": 7}}},
            "y": {"field": "value", "type": "quantitative", "scale": {"domain": [0, 100, 250, 350], "range": [320, 181, 141, 0], "nice": false, "zero": false},
              "axis": {"orient": "left", "values": [0, 50, 100, 250, 300, 350], "title": "Toxin concentration (mg.kg⁻¹)", "titleFontSize": 29, "titleX": -94, "titleY": 166}}
          }
        },
        {
          "data": {"name": "toxin"},
          "transform": [{"filter": "datum.series === 'HTX'"}],
          "mark": {"type": "line", "color": "#000000", "strokeWidth": 2.5, "strokeDash": [14, 7]},
          "encoding": {"x": {"field": "date", "type": "temporal"}, "y": {"field": "value", "type": "quantitative"}}
        },
        {
          "data": {"name": "toxin"},
          "transform": [{"filter": "datum.series === 'dhATX'"}],
          "mark": {"type": "line", "color": "#c8c8c8", "strokeWidth": 3, "strokeDash": [16, 9]},
          "encoding": {"x": {"field": "date", "type": "temporal"}, "y": {"field": "value", "type": "quantitative"}}
        },
        {
          "data": {"name": "toxin"},
          "transform": [{"filter": "datum.series === 'dhHTX'"}],
          "mark": {"type": "line", "color": "#888888", "strokeWidth": 2.5},
          "encoding": {"x": {"field": "date", "type": "temporal"}, "y": {"field": "value", "type": "quantitative"}}
        },
        {
          "data": {"name": "breaks"},
          "mark": {"type": "rule", "color": "#111111", "strokeWidth": 1.5},
          "encoding": {
            "x": {"field": "d1", "type": "temporal"},
            "x2": {"field": "d2"},
            "y": {"field": "v1", "type": "quantitative"},
            "y2": {"field": "v2"}
          }
        },
        {
          "data": {"name": "toxin"},
          "transform": [{"filter": "datum.series === 'ATX'"}],
          "mark": {"type": "point", "shape": "circle", "filled": true, "color": "#000000", "size": 220, "opacity": 1},
          "encoding": {"x": {"field": "date", "type": "temporal"}, "y": {"field": "value", "type": "quantitative"}}
        },
        {
          "data": {"name": "toxin"},
          "transform": [{"filter": "datum.series === 'HTX'"}],
          "mark": {"type": "point", "shape": "circle", "filled": true, "fill": "#ffffff", "stroke": "#000000", "strokeWidth": 1.5, "size": 220, "opacity": 1},
          "encoding": {"x": {"field": "date", "type": "temporal"}, "y": {"field": "value", "type": "quantitative"}}
        },
        {
          "data": {"name": "toxin"},
          "transform": [{"filter": "datum.series === 'dhATX'"}],
          "mark": {"type": "point", "shape": "triangle-down", "filled": true, "color": "#000000", "size": 260, "opacity": 1},
          "encoding": {"x": {"field": "date", "type": "temporal"}, "y": {"field": "value", "type": "quantitative"}}
        },
        {
          "data": {"name": "toxin"},
          "transform": [{"filter": "datum.series === 'dhHTX'"}],
          "mark": {"type": "point", "shape": "triangle-down", "filled": true, "fill": "#ffffff", "stroke": "#000000", "strokeWidth": 1.5, "size": 260, "opacity": 1},
          "encoding": {"x": {"field": "date", "type": "temporal"}, "y": {"field": "value", "type": "quantitative"}}
        },
        {
          "data": {"name": "toxin"},
          "mark": {"type": "point", "opacity": 0},
          "encoding": {
            "x": {"field": "date", "type": "temporal"},
            "y": {"field": "value", "type": "quantitative"},
            "shape": {"field": "series", "type": "nominal",
              "scale": {"domain": ["ATX", "HTX", "dhATX", "dhHTX"], "range": [
                "M-8,0L8,0M-0.85,0A0.85,0.85,0,1,0,0.85,0A0.85,0.85,0,1,0,-0.85,0Z",
                "M-8,0L-4.1,0M-2.6,0L-0.85,0M0.85,0L1.1,0M2.5,0L6.4,0M-0.85,0A0.85,0.85,0,1,0,0.85,0A0.85,0.85,0,1,0,-0.85,0Z",
                "M-8,0L-5.1,0M-4,0L-1.1,0M1.2,0L3,0M4.3,0L7.1,0M-0.95,-0.75L0.95,-0.75L0,0.95Z",
                "M-8,0L-0.9,0M0.9,0L8,0M-0.95,-0.75L0.95,-0.75L0,0.95Z"
              ]},
              "legend": {"orient": "none", "legendX": 957, "legendY": 738, "title": null, "symbolSize": 400, "symbolStrokeWidth": 3, "symbolOpacity": 1, "symbolFillColor": "#ffffff", "symbolOffset": 68, "labelFont": "DejaVu Sans", "labelFontSize": 27, "labelFontWeight": "bold", "labelColor": "#000000", "labelOffset": 106, "rowPadding": 9, "padding": 0, "offset": 0}},
            "fill": {"field": "series", "type": "nominal",
              "scale": {"domain": ["ATX", "HTX", "dhATX", "dhHTX"], "range": ["#000000", "#ffffff", "#000000", "#ffffff"]},
              "legend": {"orient": "none", "legendX": 957, "legendY": 738, "title": null, "symbolSize": 400, "symbolStrokeWidth": 3, "symbolOpacity": 1, "symbolFillColor": "#ffffff", "symbolOffset": 68, "labelFont": "DejaVu Sans", "labelFontSize": 27, "labelFontWeight": "bold", "labelColor": "#000000", "labelOffset": 106, "rowPadding": 9, "padding": 0, "offset": 0}},
            "stroke": {"field": "series", "type": "nominal",
              "scale": {"domain": ["ATX", "HTX", "dhATX", "dhHTX"], "range": ["#000000", "#000000", "#c8c8c8", "#888888"]},
              "legend": {"orient": "none", "legendX": 957, "legendY": 738, "title": null, "symbolSize": 400, "symbolStrokeWidth": 3, "symbolOpacity": 1, "symbolFillColor": "#ffffff", "symbolOffset": 68, "labelFont": "DejaVu Sans", "labelFontSize": 27, "labelFontWeight": "bold", "labelColor": "#000000", "labelOffset": 106, "rowPadding": 9, "padding": 0, "offset": 0}}
          }
        }
      ]
    }
  ]
}
